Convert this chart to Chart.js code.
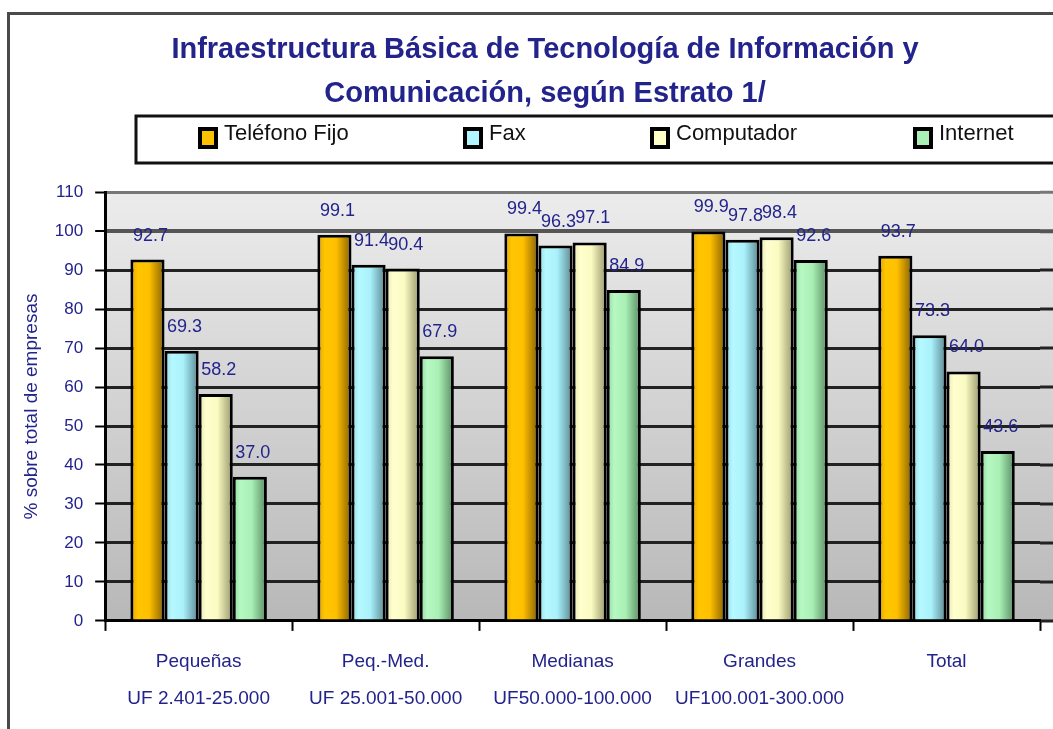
<!DOCTYPE html>
<html lang="es">
<head>
  <meta charset="UTF-8">
  <title>Infraestructura Básica de TIC según Estrato</title>
  <script src="https://cdn.jsdelivr.net/npm/chart.js"></script>
  <style>
    html, body { margin: 0; padding: 0; overflow: hidden; background: #fff; }
    #wrap { width: 1090px; height: 729px; }
  </style>
</head>
<body>
  <div id="wrap"><canvas id="estratoChart"></canvas></div>

  <script>
    // data
    const categories = [
      ['Pequeñas', 'UF 2.401-25.000'],
      ['Peq.-Med.', 'UF 25.001-50.000'],
      ['Medianas', 'UF50.000-100.000'],
      ['Grandes', 'UF100.001-300.000'],
      ['Total']
    ];
    const seriesNames = ['Teléfono Fijo', 'Fax', 'Computador', 'Internet'];
    const telefonoFijo = [92.7, 99.1, 99.4, 99.9, 93.7];
    const fax = [69.3, 91.4, 96.3, 97.8, 73.3];
    const computador = [58.2, 90.4, 97.1, 98.4, 64.0];
    const internet = [37.0, 67.9, 84.9, 92.6, 43.6];
    const yMin = 0, yMax = 110, yStep = 10;

    const FONT = "'Liberation Sans', Arial, sans-serif";
    const NAVY = '#23238c';
    const CAT_PCT = 0.73;

    // colour stops for the shaded (cylinder like) bars
    const shades = [
      ['#e4a200', '#ffc600', '#ffbf00', '#866000'],
      ['#92dbe8', '#b6f9ff', '#a9f1fb', '#58868f'],
      ['#e6e6b0', '#ffffcf', '#fafac2', '#96966a'],
      ['#90d89e', '#b6f8c2', '#a9f0b5', '#588a62']
    ];
    const swatch = ['#ffc000', '#b0f4ff', '#ffffc8', '#a8f0b4'];

    function barFill(ctx) {
      const chart = ctx.chart;
      const ds = ctx.datasetIndex;
      const xs = chart.scales.x;
      if (ctx.type !== 'data' || !xs || !chart.chartArea) return swatch[ds];
      const catW = xs.width / categories.length;
      const groupW = catW * CAT_PCT;
      const barW = groupW / seriesNames.length;
      const left = xs.getPixelForValue(ctx.dataIndex) - groupW / 2 + ds * barW;
      const g = chart.ctx.createLinearGradient(left, 0, left + barW, 0);
      const s = shades[ds];
      g.addColorStop(0, s[0]);
      g.addColorStop(0.22, s[1]);
      g.addColorStop(0.55, s[2]);
      g.addColorStop(1, s[3]);
      return g;
    }

    // grey gradient plot background, stretched to the right edge like the original
    const plotBackground = {
      id: 'plotBackground',
      beforeDraw(chart) {
        const { ctx, chartArea: a, width } = chart;
        const g = ctx.createLinearGradient(0, a.top, 0, a.bottom);
        g.addColorStop(0, '#ececec');
        g.addColorStop(1, '#b8b8b8');
        ctx.save();
        ctx.fillStyle = g;
        ctx.fillRect(a.left, a.top, width - a.left, a.bottom - a.top);
        // continue the grid lines past the last category
        const ys = chart.scales.y;
        ys.ticks.forEach(t => {
          const y = ys.getPixelForValue(t.value);
          ctx.strokeStyle = t.value === 100 ? '#555' : (t.value === yMax ? '#777' : '#222');
          ctx.lineWidth = t.value === 100 ? 4 : 3;
          ctx.beginPath();
          ctx.moveTo(a.right, y);
          ctx.lineTo(width, y);
          ctx.stroke();
        });
        ctx.restore();
      }
    };

    // numbers above each bar
    const valueLabels = {
      id: 'valueLabels',
      afterDatasetsDraw(chart) {
        const ctx = chart.ctx;
        ctx.save();
        ctx.font = '18px ' + FONT;
        ctx.fillStyle = NAVY;
        ctx.textAlign = 'center';
        ctx.textBaseline = 'middle';
        chart.data.datasets.forEach((ds, i) => {
          chart.getDatasetMeta(i).data.forEach((bar, j) => {
            ctx.fillText(ds.data[j].toFixed(1), bar.x + 3, bar.y - 24);
          });
        });
        ctx.restore();
      }
    };

    // boxed legend + outer frame
    const legendX = [198, 463, 650, 913];
    const frameAndLegend = {
      id: 'frameAndLegend',
      afterDraw(chart) {
        const ctx = chart.ctx;
        const W = chart.width;
        ctx.save();
        ctx.strokeStyle = '#4a4a4a';
        ctx.lineWidth = 3;
        ctx.strokeRect(8.5, 13.5, W + 20, chart.height + 20);

        const bx = 136, by = 116, bh = 47;
        ctx.fillStyle = '#fff';
        ctx.fillRect(bx, by, W - bx + 20, bh);
        ctx.strokeStyle = '#111';
        ctx.lineWidth = 3;
        ctx.strokeRect(bx, by, W - bx + 20, bh);

        ctx.font = '22px ' + FONT;
        ctx.textBaseline = 'middle';
        ctx.textAlign = 'left';
        const cy = 136;
        chart.data.datasets.forEach((ds, i) => {
          const x = legendX[i];
          ctx.fillStyle = '#000';
          ctx.fillRect(x, cy - 9, 20, 22);
          ctx.fillStyle = swatch[i];
          ctx.fillRect(x + 4, cy - 5, 12, 14);
          ctx.fillStyle = '#111';
          ctx.fillText(ds.label, x + 26, cy - 2);
        });
        ctx.restore();
      }
    };

    function gridColor(c) {
      if (c.tick.value === 100) return '#555';
      if (c.tick.value === yMax) return '#777';
      return '#222';
    }

    const seriesValues = [telefonoFijo, fax, computador, internet];

    new Chart(document.getElementById('estratoChart'), {
      type: 'bar',
      data: {
        labels: categories,
        datasets: seriesNames.map((name, i) => ({
          label: name,
          data: seriesValues[i],
          yAxisID: 'y',
          backgroundColor: barFill,
          borderColor: '#000',
          borderWidth: 3,
          categoryPercentage: CAT_PCT,
          barPercentage: 1
        }))
      },
      options: {
        responsive: true,
        maintainAspectRatio: false,
        animation: false,
        layout: { padding: { left: 14, right: 14, top: 14, bottom: 0 } },
        plugins: {
          legend: { display: false },
          tooltip: { enabled: false },
          title: {
            display: true,
            text: ['Infraestructura Básica de Tecnología de Información y', 'Comunicación, según Estrato 1/'],
            color: NAVY,
            font: { family: FONT, size: 29, weight: 'bold', lineHeight: 1.52 },
            padding: { top: 14, bottom: 76 }
          }
        },
        scales: {
          x: {
            grid: {
              drawOnChartArea: false,
              drawTicks: true,
              tickLength: 10,
              tickColor: '#000',
              tickWidth: 2
            },
            border: { color: '#000', width: 3 },
            ticks: {
              color: NAVY,
              padding: 12,
              maxRotation: 0,
              autoSkip: false,
              font: { family: FONT, size: 19, lineHeight: 1.95 }
            }
          },
          y: {
            min: yMin,
            max: yMax,
            ticks: {
              stepSize: yStep,
              color: NAVY,
              padding: 12,
              font: { family: FONT, size: 17 }
            },
            grid: {
              color: gridColor,
              lineWidth: c => c.tick.value === 100 ? 4 : 3,
              tickLength: 10,
              tickColor: '#000',
              tickWidth: 2
            },
            border: { color: '#000', width: 3 },
            title: {
              display: true,
              text: '% sobre total de empresas',
              color: NAVY,
              font: { family: FONT, size: 19 },
              padding: { top: 6, bottom: 0 }
            }
          },
          // empty strip on the right: the original chart is cut off there
          spacer: {
            type: 'linear',
            position: 'right',
            display: true,
            grid: { display: false },
            border: { display: false },
            ticks: { display: false },
            afterFit(scale) { scale.width = 36; }
          }
        }
      },
      plugins: [plotBackground, valueLabels, frameAndLegend]
    });
  </script>
</body>
</html>
